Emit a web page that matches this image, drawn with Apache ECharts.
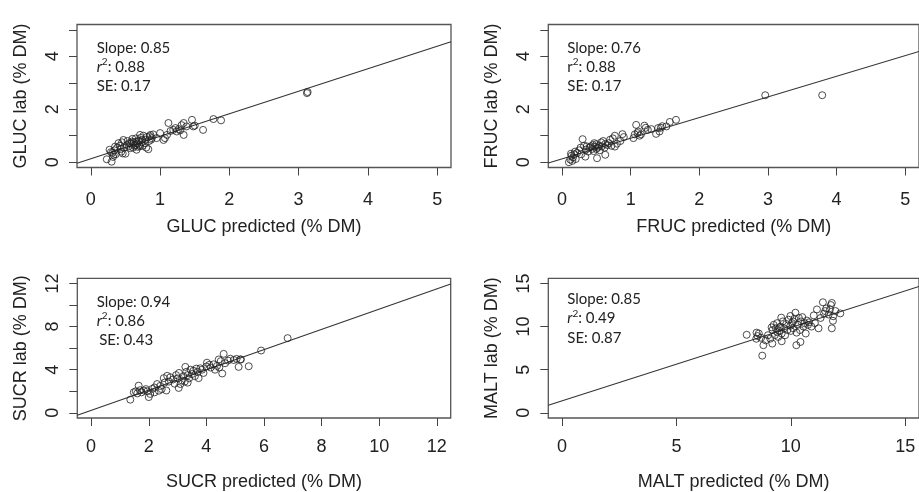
<!DOCTYPE html>
<html><head><meta charset="utf-8">
<script src="https://cdn.jsdelivr.net/npm/echarts@6/dist/echarts.min.js"></script>
<style>html,body{margin:0;padding:0;background:#fff}#c{width:919px;height:492px}</style>
</head><body><div id="c"></div>
<script>
// ---------- data (predicted %DM, lab %DM) ----------
const glucPoints = [[0.23,0.11],[0.30,0.02],[0.33,0.28],[0.27,0.47],[0.35,0.59],[0.40,0.72],[0.47,0.84],[0.52,0.65],[0.57,0.53],[0.59,0.78],[0.64,0.65],[0.66,0.47],[0.71,1.03],[0.74,0.84],[0.78,0.72],[0.83,0.49],[0.86,1.03],[0.88,0.91],[1.00,1.10],[1.05,0.84],[1.10,1.03],[1.12,1.48],[1.22,1.29],[1.24,1.16],[1.27,1.25],[1.34,1.03],[1.34,1.48],[1.46,1.60],[1.48,1.35],[1.62,1.22],[1.77,1.63],[1.88,1.58],[3.12,2.61],[3.13,2.65],
[0.31,0.35],[0.32,0.20],[0.34,0.45],[0.36,0.30],[0.38,0.55],[0.42,0.62],[0.44,0.40],[0.45,0.75],[0.48,0.55],[0.50,0.32],[0.53,0.80],[0.55,0.60],[0.58,0.70],[0.60,0.88],[0.61,0.55],[0.62,0.75],[0.63,0.62],[0.65,0.90],[0.67,0.70],[0.68,0.58],[0.69,0.80],[0.70,0.65],[0.72,0.92],[0.73,0.75],[0.75,0.62],[0.76,1.00],[0.79,0.85],[0.80,0.55],[0.81,0.95],[0.84,0.80],[0.85,0.98],[0.87,0.85],[0.90,1.05],[0.95,0.91],[1.07,0.91],[1.15,1.18],[1.19,1.22],[1.29,1.20],[1.31,1.40],[1.38,1.35],[1.50,1.38],[0.29,0.38],[0.43,0.50],[0.56,0.72],[0.46,0.33],[0.66,0.78],[0.71,0.60]];
const frucPoints = [[2.96,2.53],[3.79,2.53],[1.66,1.60],[1.57,1.52],[1.52,1.35],[1.40,1.29],[1.37,1.07],[1.42,1.16],[1.20,1.38],[1.25,1.22],[1.08,1.41],[1.11,1.16],[1.04,0.91],[1.13,1.00],[0.88,1.06],[0.77,1.00],[0.77,0.59],[0.70,0.85],[0.63,0.69],[0.63,0.28],[0.51,0.15],[0.30,0.87],[0.34,0.21],[0.19,0.40],[0.10,0.00],
[0.12,0.10],[0.14,0.25],[0.15,0.05],[0.16,0.18],[0.18,0.30],[0.20,0.12],[0.22,0.35],[0.25,0.45],[0.27,0.55],[0.28,0.30],[0.32,0.62],[0.35,0.48],[0.38,0.40],[0.40,0.55],[0.42,0.60],[0.44,0.50],[0.45,0.65],[0.46,0.42],[0.48,0.58],[0.50,0.50],[0.50,0.68],[0.52,0.55],[0.54,0.62],[0.55,0.45],[0.57,0.75],[0.58,0.60],[0.60,0.80],[0.62,0.55],[0.66,0.65],[0.68,0.72],[0.72,0.62],[0.74,0.90],[0.80,0.70],[0.85,0.80],[0.90,0.95],[1.06,1.05],[1.10,1.10],[1.15,1.05],[1.22,1.30],[1.30,1.25],[1.44,1.30],[1.46,1.36],[0.47,0.72],[0.36,0.60],[0.13,0.32]];
const sucrPoints = [[6.82,6.93],[5.90,5.78],[5.47,4.32],[5.18,4.95],[5.12,4.26],[4.83,5.02],[4.60,5.47],[4.55,3.65],[4.43,4.95],[4.37,4.35],[4.02,4.65],[3.79,4.13],[3.73,3.22],[3.27,4.26],[3.10,2.67],[3.04,2.31],[2.64,3.43],[2.61,2.07],[2.52,3.22],[2.29,2.67],[2.12,2.22],[2.00,1.46],[1.83,2.07],[1.65,2.52],[1.48,1.91],[1.36,1.22],
[1.55,2.00],[1.60,1.80],[1.70,2.10],[1.75,1.90],[1.90,2.20],[2.05,1.75],[2.20,2.35],[2.35,2.05],[2.40,2.50],[2.45,2.20],[2.55,2.80],[2.70,2.90],[2.75,3.30],[2.85,3.10],[2.90,2.70],[2.95,3.50],[3.00,3.20],[3.05,3.70],[3.15,3.00],[3.20,3.40],[3.25,2.90],[3.30,3.80],[3.35,3.50],[3.40,3.20],[3.45,4.00],[3.50,3.60],[3.55,3.90],[3.60,3.40],[3.65,4.10],[3.70,3.80],[3.85,4.00],[3.90,3.70],[4.00,4.30],[4.10,4.45],[4.15,4.20],[4.25,4.50],[4.30,4.00],[4.50,4.80],[4.65,4.60],[4.75,4.85],[4.95,4.90],[5.05,5.00],[5.20,4.95],[4.45,4.20],[3.35,2.80],[2.20,1.90],[1.95,2.00]];
const maltPoints = [[8.07,9.05],[8.75,6.63],[8.80,7.84],[8.49,8.59],[9.19,8.03],[9.16,9.91],[9.58,11.04],[9.98,11.23],[10.20,11.61],[10.24,7.84],[10.42,8.22],[11.21,9.80],[11.14,11.99],[11.40,12.82],[11.79,12.74],[11.79,9.80],[11.84,10.67],[12.16,11.53],[11.50,11.80],[11.71,11.99],[9.98,10.10],[9.41,9.35],
[8.50,9.30],[8.55,8.90],[8.60,9.20],[8.70,8.70],[8.90,8.40],[9.00,9.00],[9.10,8.60],[9.20,9.60],[9.25,10.20],[9.30,9.00],[9.35,9.80],[9.40,10.40],[9.45,8.80],[9.50,9.50],[9.55,10.00],[9.60,9.20],[9.65,10.60],[9.70,9.80],[9.75,9.00],[9.80,10.30],[9.85,9.60],[9.90,10.80],[10.00,9.50],[10.05,10.40],[10.10,9.80],[10.15,10.90],[10.25,9.30],[10.30,10.20],[10.35,11.00],[10.40,9.60],[10.45,10.60],[10.50,11.10],[10.55,10.00],[10.60,10.40],[10.65,9.20],[10.70,10.70],[10.75,10.20],[10.80,10.50],[10.90,10.00],[11.00,11.30],[11.05,10.40],[11.30,11.00],[11.45,11.50],[11.55,12.10],[11.65,11.40],[11.75,12.50],[11.85,11.20],[11.95,11.80],[9.50,9.90],[9.60,8.30],[10.10,10.60]];

// fitted lines (endpoints at the plot edges)
const glucFit = [[-0.2,-0.04],[5.2,4.55]];
const frucFit = [[-0.2,-0.03],[5.2,4.18]];
const sucrFit = [[-0.48,-0.23],[12.48,11.95]];
const maltFit = [[-0.6,0.88],[15.6,14.65]];

// tick values
const ticks5 = [0,1,2,3,4,5];
const labelsY5 = [0,2,4];
const ticks12 = [0,2,4,6,8,10,12];
const labelsY12 = [0,4,8,12];
const ticks15 = [0,5,10,15];

// names & stats
const names = ['GLUC','FRUC','SUCR','MALT'];
const slopes = ['0.85','0.76','0.94','0.85'];
const r2s = ['0.88','0.88','0.86','0.49'];
const ses = ['0.17','0.17','0.43','0.87'];

const pointSets = [glucPoints, frucPoints, sucrPoints, maltPoints];
const fits = [glucFit, frucFit, sucrFit, maltFit];
const ranges = [[-0.2,5.2],[-0.2,5.2],[-0.48,12.48],[-0.6,15.6]];
const xTickSets = [ticks5, ticks5, ticks12, ticks15];
const xLabelSets = [ticks5, ticks5, ticks12, ticks15];
const yTickSets = [ticks5, ticks5, ticks12, ticks15];
const yLabelSets = [labelsY5, labelsY5, labelsY12, ticks15];

const grids = [
  {left:77, top:24.5, width:374, height:143},
  {left:548.3, top:24.5, width:374, height:143},
  {left:77.3, top:278.3, width:373.4, height:141.7},
  {left:548.3, top:278.3, width:373.4, height:141.7}
];
const xLabelMargin = [24, 24, 20, 20];
const xNameGap = [51, 51, 55, 55];

const TXT = '#222';
const FONT = 'Liberation Sans, Arial, sans-serif';

const option = {
  animation:false,
  backgroundColor:'#fff',
  grid: grids.map(g => Object.assign({show:true, borderColor:'#555', borderWidth:1.3, backgroundColor:'transparent', containLabel:false}, g)),
  xAxis: names.map((n,i)=>({
    type:'value', gridIndex:i, min:ranges[i][0], max:ranges[i][1],
    name: n + ' predicted (% DM)', nameLocation:'middle', nameGap:xNameGap[i],
    nameTextStyle:{fontFamily:FONT, fontSize:18, color:TXT},
    axisLine:{show:false, onZero:false},
    axisTick:{show:true, inside:false, length:8, customValues:xTickSets[i], lineStyle:{color:'#444', width:1}},
    axisLabel:{show:true, customValues:xLabelSets[i], margin:xLabelMargin[i], fontFamily:FONT, fontSize:18, color:TXT},
    splitLine:{show:false}
  })),
  yAxis: names.map((n,i)=>({
    type:'value', gridIndex:i, min:ranges[i][0], max:ranges[i][1],
    name: n + ' lab (% DM)', nameLocation:'middle', nameGap:47, nameRotate:90,
    nameTextStyle:{fontFamily:FONT, fontSize:18, color:TXT},
    axisLine:{show:false, onZero:false},
    axisTick:{show:true, inside:false, length:8, customValues:yTickSets[i], lineStyle:{color:'#444', width:1}},
    axisLabel:{show:true, customValues:yLabelSets[i], rotate:90, margin:15, fontFamily:FONT, fontSize:18, color:TXT},
    splitLine:{show:false}
  })),
  series: [].concat(...names.map((n,i)=>[
    {type:'line', xAxisIndex:i, yAxisIndex:i, data:fits[i], symbol:'none', silent:true,
     lineStyle:{color:'#333', width:1.1}, z:2},
    {type:'scatter', xAxisIndex:i, yAxisIndex:i, data:pointSets[i], symbol:'circle', symbolSize:7,
     itemStyle:{color:'rgba(0,0,0,0)', borderColor:'#222', borderWidth:1}, z:3}
  ])),
  graphic: []
};

const annoPos = [[96.7,47.7],[567.3,47.7],[96.7,302],[567.3,299.3]];
const italicR = [true,false,true,true];
const ANF = 'Lato, "Open Sans", sans-serif';
names.forEach((n,i)=>{
  const [x,y] = annoPos[i];
  option.graphic.push({type:'text', x:x, y:y, style:{text:'Slope: '+slopes[i], fontFamily:ANF, fontSize:15, fill:TXT, verticalAlign:'middle'}});
  option.graphic.push({type:'text', x:x, y:y+19.2, style:{
    text:'{r|r}{s|2}{n|: '+r2s[i]+'}', fontFamily:ANF, fontSize:15, fill:TXT, verticalAlign:'middle',
    rich:{
      r:{fontStyle: italicR[i]?'italic':'normal', fontFamily:ANF, fontSize:15, lineHeight:20, fill:TXT, color:TXT},
      s:{fontFamily:ANF, fontSize:10, lineHeight:12, verticalAlign:'top', fill:TXT, color:TXT},
      n:{fontFamily:ANF, fontSize:15, lineHeight:20, fill:TXT, color:TXT}
    }}});
  option.graphic.push({type:'text', x:x + (i===2?2.5:0), y:y+38.4, style:{text:'SE: '+ses[i], fontFamily:ANF, fontSize:15, fill:TXT, verticalAlign:'middle'}});
});

const chart = echarts.init(document.getElementById('c'), null, {renderer:'canvas'});
chart.setOption(option);
</script>
</body></html>
